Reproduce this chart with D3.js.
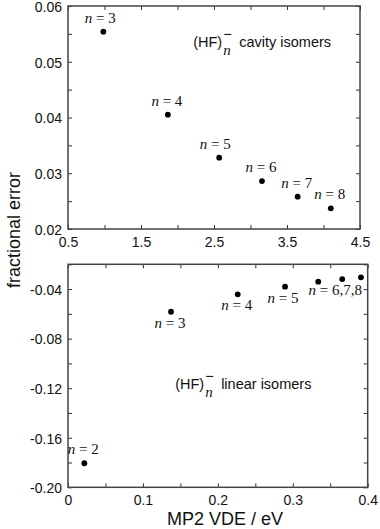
<!DOCTYPE html>
<html>
<head>
<meta charset="utf-8">
<script src="https://cdn.jsdelivr.net/npm/d3@7"></script>
<style>
  body { margin: 0; background: #fff; }
  .tick text { font-family: "Liberation Sans", Arial, sans-serif; font-size: 14px; fill: #111; }
  .tick line { stroke: #333; }
  .domain { display: none; }
  .nlabel { font-family: "Liberation Serif", "Times New Roman", serif; font-size: 15px; fill: #111; }
  .note { font-family: "Liberation Sans", Arial, sans-serif; font-size: 14.5px; fill: #111; }
  .axis-title { font-family: "Liberation Sans", Arial, sans-serif; font-size: 18px; fill: #111; }
</style>
</head>
<body>
<div id="chart"></div>
<script>
// cavity isomers (top panel)
const cavityN = [3, 4, 5, 6, 7, 8];
const cavityVDE = [0.984, 1.868, 2.571, 3.157, 3.646, 4.10];
const cavityErr = [0.0554, 0.0405, 0.0328, 0.0286, 0.0258, 0.0237];
const cavityLabels = ["3", "4", "5", "6", "7", "8"];

// linear isomers (bottom panel)
const linearN = [2, 3, 4, 5, 6, 7, 8];
const linearVDE = [0.0218, 0.1375, 0.2265, 0.2897, 0.334, 0.366, 0.391];
const linearErr = [-0.1806, -0.0583, -0.0442, -0.0381, -0.034, -0.0319, -0.0305];
const linearLabels = ["2", "3", "4", "5", null, "6,7,8", null];

const topXTicks = [0.5, 1, 1.5, 2, 2.5, 3, 3.5, 4, 4.5];
const topXLabels = [0.5, 1.5, 2.5, 3.5, 4.5];
const topYTicks = [0.02, 0.025, 0.03, 0.035, 0.04, 0.045, 0.05, 0.055, 0.06];
const topYLabels = [0.02, 0.03, 0.04, 0.05, 0.06];
const botXTicks = [0, 0.05, 0.1, 0.15, 0.2, 0.25, 0.3, 0.35, 0.4];
const botXLabels = [0, 0.1, 0.2, 0.3, 0.4];
const botYTicks = [-0.20, -0.18, -0.16, -0.14, -0.12, -0.10, -0.08, -0.06, -0.04, -0.02];
const botYLabels = [-0.20, -0.16, -0.12, -0.08, -0.04];

const width = 380;
const height = 529;

const svg = d3.select("#chart")
    .append("svg")
    .attr("width", width)
    .attr("height", height);

// draw one framed panel with inward ticks on all four sides
function panel(opts) {
    const x = d3.scaleLinear().domain(opts.xDomain).range([opts.left, opts.right]);
    const y = d3.scaleLinear().domain(opts.yDomain).range([opts.bottom, opts.top]);
    const g = svg.append("g");

    const xFmt = d => opts.xLabels.some(v => Math.abs(v - d) < 1e-9) ? opts.xFormat(d) : "";
    const yFmt = d => opts.yLabels.some(v => Math.abs(v - d) < 1e-9) ? opts.yFormat(d) : "";

    g.append("g")
        .attr("transform", `translate(0,${opts.bottom})`)
        .call(d3.axisBottom(x).tickValues(opts.xTicks).tickFormat(xFmt).tickSizeInner(-4).tickSizeOuter(0).tickPadding(8));
    g.append("g")
        .attr("transform", `translate(0,${opts.top})`)
        .call(d3.axisTop(x).tickValues(opts.xTicks).tickFormat("").tickSizeInner(-4).tickSizeOuter(0));
    g.append("g")
        .attr("transform", `translate(${opts.left},0)`)
        .call(d3.axisLeft(y).tickValues(opts.yTicks).tickFormat(yFmt).tickSizeInner(-4).tickSizeOuter(0).tickPadding(6))
        .selectAll("text").attr("dy", "0.38em");
    g.append("g")
        .attr("transform", `translate(${opts.right},0)`)
        .call(d3.axisRight(y).tickValues(opts.yTicks).tickFormat("").tickSizeInner(-4).tickSizeOuter(0));

    g.append("rect")
        .attr("x", opts.left)
        .attr("y", opts.top)
        .attr("width", opts.right - opts.left)
        .attr("height", opts.bottom - opts.top)
        .attr("fill", "none")
        .attr("stroke", "#444")
        .attr("stroke-width", 1.5);

    const pts = opts.xs.map((v, i) => ({ x: v, y: opts.ys[i], label: opts.labels[i] }));

    g.selectAll("circle")
        .data(pts)
        .enter()
        .append("circle")
        .attr("cx", d => x(d.x))
        .attr("cy", d => y(d.y))
        .attr("r", 2.9)
        .attr("fill", "#000");

    // "n = k" labels, n in italic
    const lab = g.selectAll("text.nlabel")
        .data(pts.map((d, i) => ({ ...d, i })).filter(d => d.label))
        .enter()
        .append("text")
        .attr("class", "nlabel")
        .attr("text-anchor", "middle")
        .attr("x", d => x(d.x) + opts.labelDx(d.i))
        .attr("y", d => y(d.y) + opts.labelDy(d.i));
    lab.append("tspan").attr("font-style", "italic").text("n");
    lab.append("tspan").text(d => " = " + d.label);

    // (HF)n- note
    const nx = x(opts.note.x);
    const ny = y(opts.note.y);
    const t1 = g.append("text").attr("class", "note").attr("x", nx).attr("y", ny).text("(HF)");
    const w1 = t1.node().getComputedTextLength();
    g.append("text").attr("class", "nlabel").attr("font-style", "italic")
        .attr("x", nx + w1 + 1).attr("y", ny + 8).text("n");
    g.append("text").attr("class", "note")
        .attr("x", nx + w1 + 1).attr("y", ny - 8).text("\u2212");
    g.append("text").attr("class", "note")
        .attr("x", nx + w1 + 17).attr("y", ny).text(opts.note.text);

    return { x, y };
}

const fmt2 = d => d.toFixed(2);

panel({
    left: 68, right: 360, top: 6, bottom: 229,
    xDomain: [0.5, 4.5], yDomain: [0.02, 0.06],
    xTicks: topXTicks, xLabels: topXLabels, xFormat: d => d.toFixed(1),
    yTicks: topYTicks, yLabels: topYLabels, yFormat: fmt2,
    xs: cavityVDE, ys: cavityErr, labels: cavityLabels,
    labelDx: i => (i === 0 ? -3 : (i === 2 ? -4 : -1)),
    labelDy: i => -9,
    note: { x: 2.215, y: 0.0526, text: "cavity isomers" }
});

panel({
    left: 68, right: 367.7, top: 264.3, bottom: 487.3,
    xDomain: [0, 0.4], yDomain: [-0.20, -0.02],
    xTicks: botXTicks, xLabels: botXLabels, xFormat: d => (d === 0 ? "0" : d.toFixed(1)),
    yTicks: botYTicks, yLabels: botYLabels, yFormat: fmt2,
    xs: linearVDE, ys: linearErr, labels: linearLabels,
    labelDx: i => (i === 5 ? -7 : (i === 3 ? -2 : -1)),
    labelDy: i => (i === 0 ? -9 : 16),
    note: { x: 0.143, y: -0.1206, text: "linear isomers" }
});

// shared axis titles
svg.append("text")
    .attr("class", "axis-title")
    .attr("text-anchor", "middle")
    .attr("transform", "translate(20,230) rotate(-90)")
    .text("fractional error");

svg.append("text")
    .attr("class", "axis-title")
    .attr("text-anchor", "middle")
    .attr("x", 225)
    .attr("y", 525)
    .text("MP2 VDE / eV");
</script>
</body>
</html>
